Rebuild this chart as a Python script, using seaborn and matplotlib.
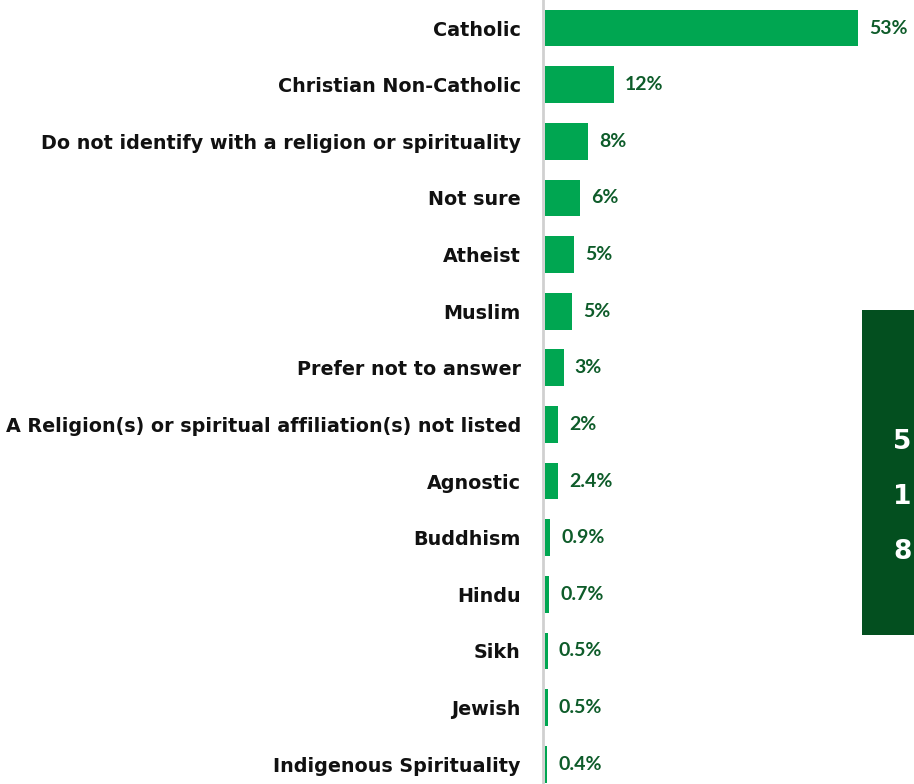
import matplotlib
matplotlib.use("Agg")
import matplotlib.pyplot as plt
import seaborn as sns
import pandas as pd
from matplotlib.patches import Rectangle

categories = ["Catholic", "Christian Non-Catholic", "Do not identify with a religion or spirituality",
              "Not sure", "Atheist", "Muslim", "Prefer not to answer",
              "A Religion(s) or spiritual affiliation(s) not listed", "Agnostic", "Buddhism",
              "Hindu", "Sikh", "Jewish", "Indigenous Spirituality"]
values = [53, 11.7, 7.4, 5.9, 4.9, 4.6, 3.2, 2.2, 2.3, 0.9, 0.7, 0.5, 0.5, 0.4]
value_labels = ["53%", "12%", "8%", "6%", "5%", "5%", "3%", "2%", "2.4%", "0.9%", "0.7%", "0.5%", "0.5%", "0.4%"]
box_texts = ["5", "1", "8"]

df = pd.DataFrame({"category": categories, "value": values})

sns.set_style("white")
W, H = 914, 784
fig = plt.figure(figsize=(W / 100, H / 100), dpi=100)
ax = fig.add_axes([543 / W, 0, (W - 543) / W, 1])
sns.barplot(data=df, y="category", x="value", color="#00A651", saturation=1,
            width=0.65, ax=ax, orient="h", linewidth=0)
ax.set_xlim(-0.3, 62.5)
ax.set_ylim(13.35, -0.495)
ax.set_xlabel("")
ax.set_ylabel("")
ax.set_xticks([])
ax.tick_params(axis="y", length=0, pad=16)
for lbl in ax.get_yticklabels():
    lbl.set_fontsize(13.8)
    lbl.set_fontweight("bold")
    lbl.set_color("#111111")
    lbl.set_fontfamily("DejaVu Sans")
for s in ["top", "right", "bottom"]:
    ax.spines[s].set_visible(False)
ax.spines["left"].set_color("#d0d0d0")
ax.spines["left"].set_linewidth(2)

for i, (v, t) in enumerate(zip(values, value_labels)):
    ax.annotate(t, xy=(v, i), xytext=(8, 0), textcoords="offset points",
                ha="left", va="center", fontsize=14, fontweight="bold",
                color="#0E5C2A", family="Lato")

fig.patches.append(Rectangle((862 / W, 1 - 635 / H), (W - 862) / W + 0.01, (635 - 310) / H,
                             transform=fig.transFigure, facecolor="#034F1F", edgecolor="none", zorder=0))
for k, t in enumerate(box_texts):
    fig.text(893 / W, 1 - (442 + 55 * k) / H, t, ha="left", va="center",
             fontsize=19, fontweight="bold", color="white", family="DejaVu Sans")

fig.savefig("out.png", dpi=100)
